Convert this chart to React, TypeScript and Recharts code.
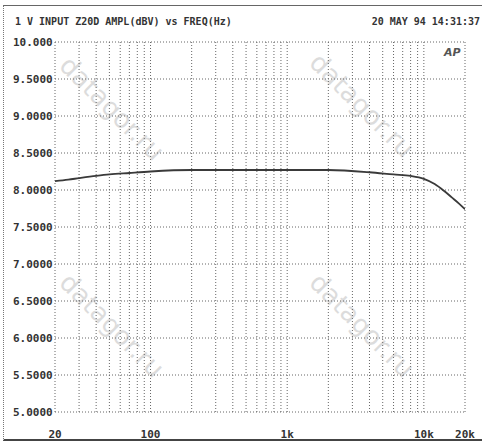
import { LineChart, Line, XAxis, YAxis, CartesianGrid } from 'recharts';

const freqs = [20, 25, 30, 40, 50, 70, 100, 200, 500, 1000, 2000, 4000, 6000, 8000, 10000, 12000, 14000, 16000, 18000, 20000];
const levels = [8.12, 8.14, 8.16, 8.19, 8.21, 8.23, 8.25, 8.27, 8.27, 8.27, 8.27, 8.24, 8.21, 8.19, 8.15, 8.08, 7.99, 7.90, 7.82, 7.74];

// grid positions on the log axis, only some carry a label
const xGrid = [20, 30, 40, 50, 60, 70, 80, 90, 100, 200, 300, 400, 500, 600, 700, 800, 900, 1000, 2000, 3000, 4000, 5000, 6000, 7000, 8000, 9000, 10000, 20000];
const xLabels: Record<number, string> = { 20: '20', 100: '100', 1000: '1k', 10000: '10k', 20000: '20k' };
const yTicks = [5, 5.5, 6, 6.5, 7, 7.5, 8, 8.5, 9, 9.5, 10];

const title = '1 V INPUT Z20D AMPL(dBV) vs FREQ(Hz)';
const stamp = '20 MAY 94 14:31:37';
const watermark = 'datagor.ru';

const data = freqs.map((f, i) => ({ freq: f, level: levels[i] }));

const font = '"DejaVu Sans Mono", "Liberation Mono", monospace';
const ink = '#333';

const fmtY = (v: number) => (v >= 10 ? v.toFixed(3) : v.toFixed(4));

function YTick(props: any) {
  const { y, payload } = props;
  return (
    <text x={13} y={y + 4} fontFamily={font} fontSize={11} fontWeight="bold" fill={ink} textAnchor="start">
      {fmtY(payload.value)}
    </text>
  );
}

function XTick(props: any) {
  const { x, y, payload } = props;
  const label = xLabels[payload.value];
  if (!label) return null;
  return (
    <text x={x} y={y + 18} fontFamily={font} fontSize={11} fontWeight="bold" fill={ink} textAnchor="middle">
      {label}
    </text>
  );
}

const marks = [
  { left: 75, top: 50 },
  { left: 325, top: 47 },
  { left: 75, top: 267 },
  { left: 325, top: 267 },
];

export default function App() {
  return (
    <div style={{ position: 'absolute', left: 0, top: 0, width: 482, height: 441, background: '#fff', overflow: 'hidden' }}>
      <div style={{ position: 'absolute', left: 3, top: 5, width: 479, height: 433, borderTop: '1px solid #666', borderLeft: '1px dotted #777', borderBottom: '2px solid #444' }} />
      <div style={{ position: 'absolute', left: 15, top: 16, fontFamily: font, fontSize: 10, fontWeight: 'bold', color: ink, whiteSpace: 'pre' }}>
        {title}
      </div>
      <div style={{ position: 'absolute', right: 2, top: 16, fontFamily: font, fontSize: 10, fontWeight: 'bold', color: ink, whiteSpace: 'pre' }}>
        {stamp}
      </div>
      {marks.map((m, i) => (
        <div
          key={i}
          style={{
            position: 'absolute', left: m.left, top: m.top, fontFamily: 'DejaVu Sans', fontSize: 26,
            color: '#dcdcdc', transform: 'rotate(45deg)', transformOrigin: 'left top', whiteSpace: 'pre',
          }}
        >
          {watermark}
        </div>
      ))}
      <LineChart width={482} height={441} data={data} margin={{ top: 42, right: 17, bottom: 0, left: 0 }} style={{ position: 'absolute', left: 0, top: 0 }}>
        <CartesianGrid stroke="#666" strokeDasharray="1 2" />
        <XAxis
          dataKey="freq"
          type="number"
          scale="log"
          domain={[20, 20000]}
          ticks={xGrid}
          tick={<XTick />}
          tickLine={false}
          axisLine={false}
          height={29}
          interval={0}
          allowDataOverflow
        />
        <YAxis
          type="number"
          domain={[5, 10]}
          ticks={yTicks}
          tick={<YTick />}
          tickLine={false}
          axisLine={false}
          width={55}
          interval={0}
        />
        <Line dataKey="level" type="monotone" stroke="#3a3a3a" strokeWidth={1.8} dot={false} isAnimationActive={false} />
      </LineChart>
      <div style={{ position: 'absolute', left: 444, top: 46, fontFamily: 'DejaVu Sans', fontSize: 11, fontStyle: 'italic', fontWeight: 'bold', color: '#555' }}>
        AP
      </div>
    </div>
  );
}
